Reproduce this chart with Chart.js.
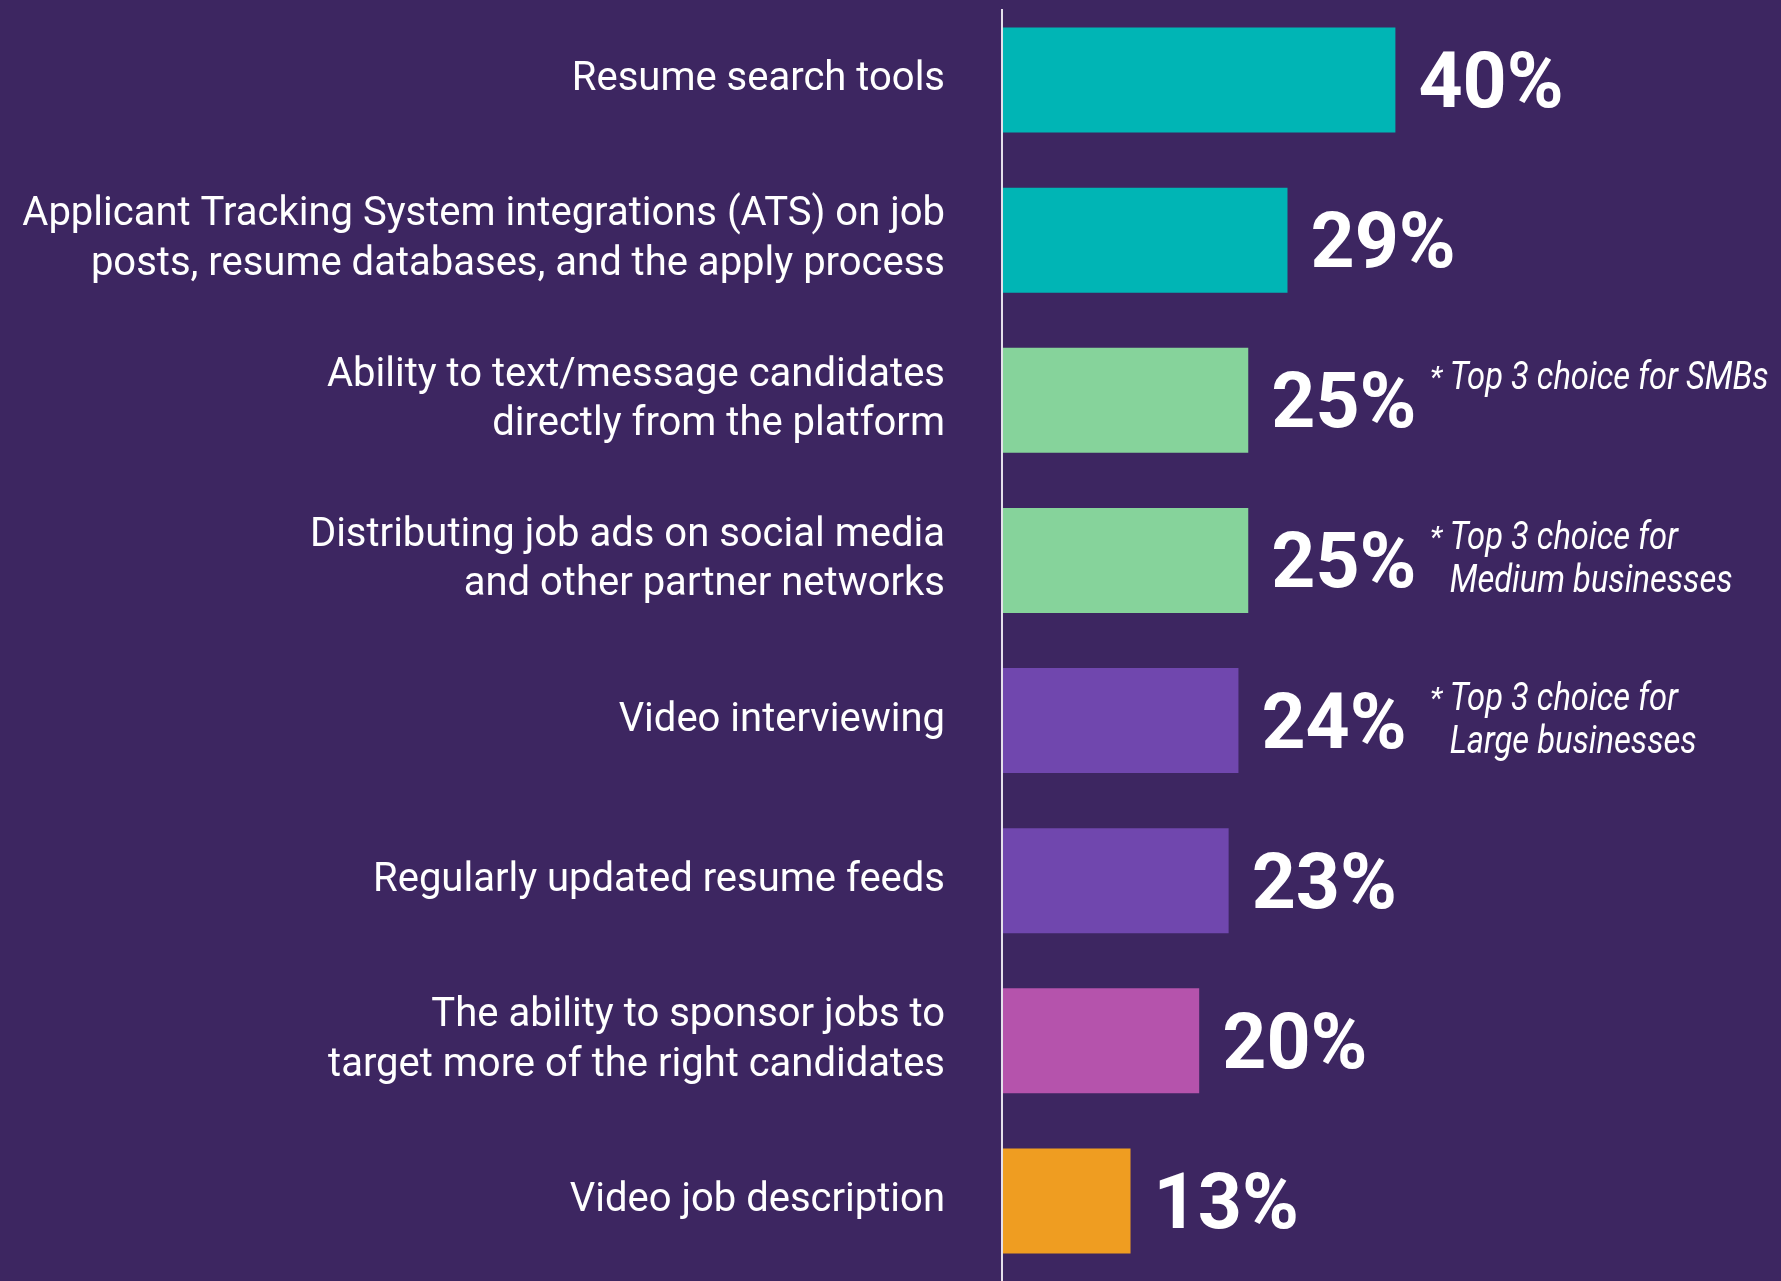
<!DOCTYPE html>
<html>
<head>
<meta charset="utf-8">
<script src="https://cdn.jsdelivr.net/npm/chart.js@4.4.0/dist/chart.umd.min.js"></script>
<style>
    html, body { margin: 0; padding: 0; background: #3d2661; }
    #wrap { width: 1781px; height: 1281px; }
</style>
</head>
<body>
<div id="wrap"><canvas id="myChart" width="1781" height="1281"></canvas></div>
<script>
// datos de la grafica
const categories = [
    'Resume search tools',
    ['Applicant Tracking System integrations (ATS) on job', 'posts, resume databases, and the apply process'],
    ['Ability to text/message candidates', 'directly from the platform'],
    ['Distributing job ads on social media', 'and other partner networks'],
    'Video interviewing',
    'Regularly updated resume feeds',
    ['The ability to sponsor jobs to', 'target more of the right candidates'],
    'Video job description'
];
const values = [40, 29, 25, 25, 24, 23, 20, 13];
const valueLabels = ['40%', '29%', '25%', '25%', '24%', '23%', '20%', '13%'];
const barColors = ['#00b5b5', '#00b5b5', '#86d39b', '#86d39b', '#7047ae', '#7047ae', '#b553ac', '#ef9d21'];
const notes = [
    null,
    null,
    ['Top 3 choice for SMBs'],
    ['Top 3 choice for', 'Medium businesses'],
    ['Top 3 choice for', 'Large businesses'],
    null,
    null,
    null
];
const noteAt = 43.5;       // las notas empiezan en este valor del eje x
const bgColor = '#3d2661';

// fondo morado
const backgroundPlugin = {
    id: 'background',
    beforeDraw: (chart) => {
        const ctx = chart.ctx;
        ctx.save();
        ctx.fillStyle = bgColor;
        ctx.fillRect(0, 0, chart.width, chart.height);
        ctx.restore();
    }
};

// linea vertical del eje
const axisLinePlugin = {
    id: 'axisLine',
    beforeDatasetsDraw: (chart) => {
        const { ctx, chartArea, scales } = chart;
        const x = scales.x.getPixelForValue(0) - 1;
        ctx.save();
        ctx.strokeStyle = '#e4e0ea';
        ctx.lineWidth = 2;
        ctx.beginPath();
        ctx.moveTo(x, chartArea.top + 9);
        ctx.lineTo(x, chartArea.bottom);
        ctx.stroke();
        ctx.restore();
    }
};

// porcentajes al final de cada barra y las notas
const valueLabelPlugin = {
    id: 'valueLabels',
    afterDatasetsDraw: (chart) => {
        const { ctx, scales } = chart;
        const meta = chart.getDatasetMeta(0);
        ctx.save();
        ctx.fillStyle = '#ffffff';
        ctx.textBaseline = 'alphabetic';
        ctx.textAlign = 'left';
        meta.data.forEach((bar, i) => {
            ctx.font = 'bold 77px Roboto';
            ctx.fillText(valueLabels[i], bar.x + 23, bar.y + 27);

            const note = notes[i];
            if (!note) return;
            const nx = scales.x.getPixelForValue(noteAt);
            note.forEach((line, j) => {
                const by = bar.y - 11 + j * 43;
                if (j == 0) {
                    ctx.font = 'italic 30px Roboto';
                    ctx.fillText('*', nx, by - 2);
                }
                ctx.save();
                ctx.translate(nx + 20, by);
                ctx.scale(0.86, 1);     // letra angosta
                ctx.font = 'italic 38px Roboto';
                ctx.fillText(line, 0, 0);
                ctx.restore();
            });
        });
        ctx.restore();
    }
};

const data = {
    labels: categories,
    datasets: [{
        data: values,
        backgroundColor: barColors,
        borderWidth: 0,
        barPercentage: 0.656,
        categoryPercentage: 1
    }]
};

const config = {
    type: 'bar',
    data: data,
    options: {
        responsive: false,
        animation: false,
        indexAxis: 'y',
        layout: { padding: { left: 0, right: 3, top: 0, bottom: 0 } },
        plugins: {
            legend: { display: false },
            tooltip: { enabled: false }
        },
        scales: {
            x: { display: false, min: 0, max: 79 },
            y: {
                grid: { display: false, drawTicks: false },
                border: { display: false },
                ticks: {
                    color: '#ffffff',
                    font: { family: 'Roboto', size: 40, lineHeight: 1.24 },
                    padding: 58,
                    autoSkip: false
                },
                afterFit: (scale) => {
                    scale.width = 1003;
                    // sin relleno arriba y abajo para que las barras llenen el alto
                    scale.paddingTop = 0;
                    scale.paddingBottom = 0;
                }
            }
        }
    },
    plugins: [backgroundPlugin, axisLinePlugin, valueLabelPlugin]
};

const myChart = new Chart(document.getElementById('myChart'), config);
</script>
</body>
</html>
